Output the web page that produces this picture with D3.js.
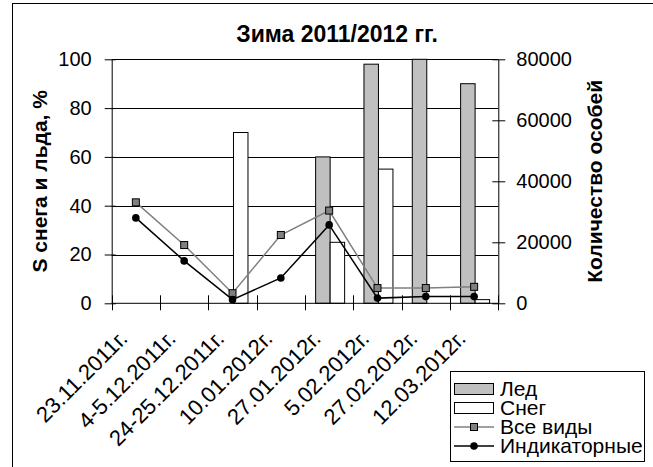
<!DOCTYPE html>
<html>
<head>
<meta charset="utf-8">
<script src="https://cdn.jsdelivr.net/npm/d3@7"></script>
<style>
  body { margin: 0; background: #fff; }
  text { font-family: "Liberation Sans", Arial, sans-serif; fill: #000; }
</style>
</head>
<body>
<div id="chart-area"></div>
<script>
// data
var categories = ["23.11.2011г.", "4-5.12.2011г.", "24-25.12.2011г.", "10.01.2012г.",
                  "27.01.2012г.", "5.02.2012г.", "27.02.2012г.", "12.03.2012г."];
var ice = [0, 0, 0, 0, 60, 98, 100, 90];           // Лед, %
var snow = [0, 0, 70, 0, 25, 55, 0, 1.5];          // Снег, %
var allSpecies = [33100, 19100, 3300, 22400, 30400, 5000, 5000, 5400];   // Все виды
var indicator = [28000, 13900, 1200, 8300, 25700, 1700, 2200, 2200];     // Индикаторные
var leftTicks = [0, 20, 40, 60, 80, 100];
var rightTicks = [0, 20000, 40000, 60000, 80000];

var W = 653, H = 467;
var plot = {left: 111.7, right: 498.3, top: 59.3, bottom: 303.3};

var svg = d3.select("#chart-area")
  .append("svg")
    .attr("width", W)
    .attr("height", H);

// outer chart border
svg.append("rect")
  .attr("x", 12.5).attr("y", 3.5)
  .attr("width", W).attr("height", H)
  .attr("fill", "none")
  .attr("stroke", "#000")
  .attr("stroke-width", 1);

var x = d3.scaleBand()
  .domain(categories)
  .range([plot.left, plot.right]);

var sub = d3.scaleBand()
  .domain(["ice", "snow"])
  .range([0, x.bandwidth()])
  .paddingOuter(0.667)
  .align(0.55);

var yL = d3.scaleLinear().domain([0, 100]).range([plot.bottom, plot.top]);
var yR = d3.scaleLinear().domain([0, 80000]).range([plot.bottom, plot.top]);

// gridlines
svg.append("g")
  .selectAll("line")
  .data(leftTicks.slice(1))
  .enter().append("line")
    .attr("x1", plot.left).attr("x2", plot.right)
    .attr("y1", function(d) { return Math.round(yL(d)) + 0.5; })
    .attr("y2", function(d) { return Math.round(yL(d)) + 0.5; })
    .attr("stroke", "#000")
    .attr("stroke-width", 1);

// bars
var barData = [];
categories.forEach(function(c, i) {
  barData.push({cat: c, key: "ice", v: ice[i]});
  barData.push({cat: c, key: "snow", v: snow[i]});
});

svg.append("g")
  .selectAll("rect")
  .data(barData.filter(function(d) { return d.v > 0; }))
  .enter().append("rect")
    .attr("x", function(d) { return x(d.cat) + sub(d.key); })
    .attr("y", function(d) { return yL(d.v); })
    .attr("width", sub.bandwidth())
    .attr("height", function(d) { return plot.bottom - yL(d.v); })
    .attr("fill", function(d) { return d.key === "ice" ? "#c0c0c0" : "#fff"; })
    .attr("stroke", "#000")
    .attr("stroke-width", 1);

// left axis
var leftAxis = d3.axisLeft(yL)
  .tickValues(leftTicks)
  .tickSize(7)
  .tickPadding(13)
  .tickSizeOuter(0);

var gl = svg.append("g")
  .attr("class", "left axis")
  .attr("transform", "translate(" + plot.left + ",0)")
  .call(leftAxis);
gl.selectAll(".tick line").attr("x2", -7).attr("x1", 4);
gl.selectAll("text").attr("font-size", "20px").attr("font-family", "Liberation Sans, Arial, sans-serif");

// right axis
var rightAxis = d3.axisRight(yR)
  .tickValues(rightTicks)
  .tickFormat(d3.format("d"))
  .tickSize(7)
  .tickPadding(11)
  .tickSizeOuter(0);

var gr = svg.append("g")
  .attr("class", "right axis")
  .attr("transform", "translate(" + plot.right + ",0)")
  .call(rightAxis);
gr.selectAll(".tick line").attr("x1", -6).attr("x2", 7);
gr.selectAll("text").attr("font-size", "20px").attr("font-family", "Liberation Sans, Arial, sans-serif");

// bottom axis (ticks between categories)
var gb = svg.append("g")
  .attr("class", "bottom axis");
gb.append("line")
  .attr("x1", plot.left).attr("x2", plot.right)
  .attr("y1", plot.bottom).attr("y2", plot.bottom)
  .attr("stroke", "#000");
gb.selectAll(".cat-tick")
  .data(categories.concat([null]))
  .enter().append("line")
    .attr("class", "cat-tick")
    .attr("x1", function(d, i) { return Math.round(plot.left + i * x.step()) + 0.5; })
    .attr("x2", function(d, i) { return Math.round(plot.left + i * x.step()) + 0.5; })
    .attr("y1", plot.bottom - 8)
    .attr("y2", plot.bottom + 7)
    .attr("stroke", "#000");

gb.selectAll(".cat-label")
  .data(categories)
  .enter().append("text")
    .attr("class", "cat-label")
    .attr("font-size", "22px")
    .attr("text-anchor", "end")
    .attr("transform", function(d) {
      return "translate(" + (x(d) + x.bandwidth() / 2 - 7) + "," + 340 + ") rotate(-45)";
    })
    .text(function(d) { return d; });

// lines
var cx = function(d, i) { return x(categories[i]) + x.bandwidth() / 2; };

var line = d3.line()
  .x(function(d, i) { return cx(d, i); });

svg.append("path")
  .datum(allSpecies)
  .attr("d", line.y(function(d) { return yR(d); }))
  .attr("fill", "none")
  .attr("stroke", "#808080")
  .attr("stroke-width", 1.5);

svg.append("path")
  .datum(indicator)
  .attr("d", line.y(function(d) { return yR(d); }))
  .attr("fill", "none")
  .attr("stroke", "#000")
  .attr("stroke-width", 1.5);

svg.append("g")
  .selectAll("rect")
  .data(allSpecies)
  .enter().append("rect")
    .attr("x", function(d, i) { return cx(d, i) - 3.5; })
    .attr("y", function(d) { return yR(d) - 3.5; })
    .attr("width", 7).attr("height", 7)
    .attr("fill", "#808080")
    .attr("stroke", "#000")
    .attr("stroke-width", 1);

svg.append("g")
  .selectAll("circle")
  .data(indicator)
  .enter().append("circle")
    .attr("cx", function(d, i) { return cx(d, i); })
    .attr("cy", function(d) { return yR(d); })
    .attr("r", 3.8)
    .attr("fill", "#000");

// title
svg.append("text")
  .attr("x", 337)
  .attr("y", 42)
  .attr("text-anchor", "middle")
  .attr("font-size", "23px")
  .attr("font-weight", "bold")
  .text("Зима 2011/2012 гг.");

// axis titles
svg.append("text")
  .attr("transform", "translate(47," + ((plot.top + plot.bottom) / 2) + ") rotate(-90)")
  .attr("text-anchor", "middle")
  .attr("font-size", "21px")
  .attr("font-weight", "bold")
  .text("S снега и льда, %");

svg.append("text")
  .attr("transform", "translate(602," + ((plot.top + plot.bottom) / 2) + ") rotate(-90)")
  .attr("text-anchor", "middle")
  .attr("font-size", "21px")
  .attr("font-weight", "bold")
  .text("Количество особей");

// legend
var legendItems = [
  {name: "Лед", type: "bar", fill: "#c0c0c0"},
  {name: "Снег", type: "bar", fill: "#fff"},
  {name: "Все виды", type: "square", color: "#808080"},
  {name: "Индикаторные", type: "circle", color: "#000"}
];

var lg = svg.append("g").attr("class", "legend");
lg.append("rect")
  .attr("x", 450.5).attr("y", 371.5)
  .attr("width", 194).attr("height", 90)
  .attr("fill", "#fff")
  .attr("stroke", "#000");

var rows = lg.selectAll(".row")
  .data(legendItems)
  .enter().append("g")
    .attr("class", "row")
    .attr("transform", function(d, i) { return "translate(0," + (389 + i * 19) + ")"; });

rows.filter(function(d) { return d.type === "bar"; })
  .append("rect")
    .attr("x", 454.5).attr("y", -5.5)
    .attr("width", 39).attr("height", 11)
    .attr("fill", function(d) { return d.fill; })
    .attr("stroke", "#000");

rows.filter(function(d) { return d.type !== "bar"; })
  .append("line")
    .attr("x1", 454).attr("x2", 494)
    .attr("y1", 0).attr("y2", 0)
    .attr("stroke", function(d) { return d.color; })
    .attr("stroke-width", 1.5);

rows.filter(function(d) { return d.type === "square"; })
  .append("rect")
    .attr("x", 470.5).attr("y", -3.5)
    .attr("width", 7).attr("height", 7)
    .attr("fill", "#808080")
    .attr("stroke", "#000");

rows.filter(function(d) { return d.type === "circle"; })
  .append("circle")
    .attr("cx", 474).attr("cy", 0)
    .attr("r", 3.8)
    .attr("fill", "#000");

rows.append("text")
  .attr("x", 500)
  .attr("y", 0)
  .attr("dy", "0.35em")
  .attr("font-size", "21px")
  .text(function(d) { return d.name; });
</script>
</body>
</html>
